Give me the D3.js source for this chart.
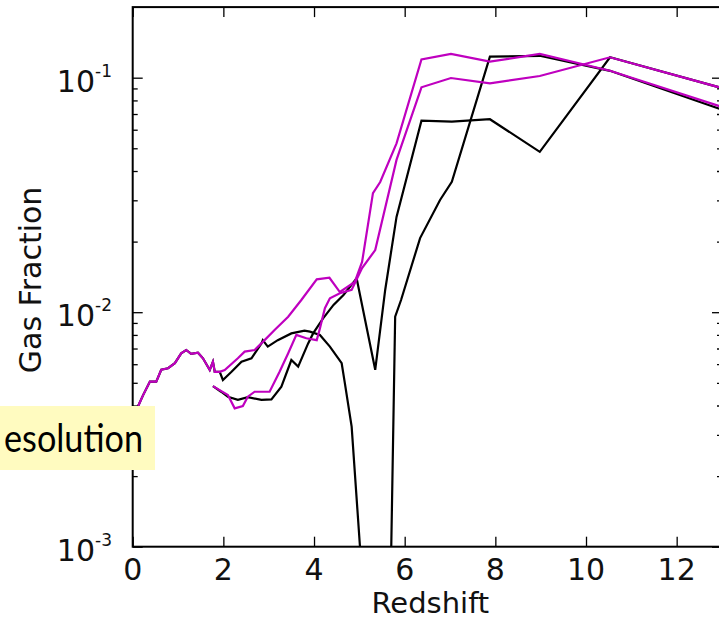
<!DOCTYPE html>
<html>
<head>
<meta charset="utf-8">
<script src="https://cdn.jsdelivr.net/npm/d3@7"></script>
<style>
  body { margin: 0; background: #fff; }
  svg { display: block; }
</style>
</head>
<body>
<div id="chart"></div>
<script>
// redshift / gas fraction
const blackAz = [0, 0.12, 0.23, 0.38, 0.52, 0.63, 0.78, 0.93, 1.07, 1.18, 1.29, 1.44, 1.55, 1.70, 1.77, 1.81, 1.92, 1.99, 2.18, 2.40, 2.62, 2.84, 2.87, 2.98, 3.20, 3.50, 3.79, 3.91, 4.13, 4.35, 4.61, 4.68, 4.83, 5.03, 5.70, 5.79, 5.92, 6.34, 6.78, 7.04, 7.88, 8.98, 10.53, 13.0]
const blackAf = [0.00379, 0.00398, 0.00443, 0.00506, 0.00506, 0.00568, 0.00577, 0.00606, 0.00668, 0.0069, 0.00664, 0.00672, 0.00636, 0.00567, 0.00615, 0.00557, 0.00557, 0.00514, 0.00557, 0.00615, 0.00636, 0.00736, 0.0076, 0.00713, 0.0076, 0.00812, 0.00834, 0.00826, 0.008, 0.00713, 0.00606, 0.00498, 0.00325, 0.0009, 0.0009, 0.00957, 0.01127, 0.0207, 0.0301, 0.036, 0.123, 0.124, 0.107, 0.073]

const magentaAz = [0, 0.12, 0.23, 0.38, 0.52, 0.63, 0.78, 0.93, 1.07, 1.18, 1.29, 1.44, 1.55, 1.70, 1.77, 1.81, 1.92, 2.03, 2.32, 2.47, 2.69, 2.91, 3.13, 3.43, 3.72, 4.06, 4.34, 4.57, 4.90, 5.06, 5.30, 5.46, 5.82, 6.37, 7.02, 7.88, 8.98, 10.53, 13.0]
const magentaAf = [0.00379, 0.00398, 0.00443, 0.00506, 0.00506, 0.00568, 0.00577, 0.00606, 0.00668, 0.0069, 0.00664, 0.00672, 0.00636, 0.00567, 0.00615, 0.00557, 0.00557, 0.00567, 0.00636, 0.00679, 0.0069, 0.0076, 0.0084, 0.00957, 0.01127, 0.0138, 0.01402, 0.01219, 0.01346, 0.01637, 0.0322, 0.0359, 0.0525, 0.1197, 0.1262, 0.117, 0.1262, 0.107, 0.075]

const blackBz = [1.77, 1.95, 2.10, 2.32, 2.54, 2.84, 3.06, 3.28, 3.50, 3.65, 3.87, 3.98, 4.20, 4.43, 4.65, 4.94, 5.35, 5.57, 5.82, 6.37, 7.04, 7.88, 8.98, 10.53, 13.0]
const blackBf = [0.00484, 0.00458, 0.00436, 0.00423, 0.00434, 0.00423, 0.00425, 0.00481, 0.00625, 0.00586, 0.00736, 0.00812, 0.00942, 0.01074, 0.01184, 0.01396, 0.00568, 0.01244, 0.0255, 0.0656, 0.0649, 0.0665, 0.0483, 0.1222, 0.0903]

const magentaBz = [1.77, 2.10, 2.25, 2.43, 2.54, 2.69, 3.02, 3.24, 3.43, 3.61, 3.83, 4.06, 4.13, 4.24, 4.35, 4.57, 4.83, 5.06, 5.35, 5.82, 6.37, 7.02, 7.88, 8.98, 10.53, 13.0]
const magentaBf = [0.00484, 0.00443, 0.00389, 0.00398, 0.00436, 0.00458, 0.00458, 0.00557, 0.00668, 0.008, 0.00774, 0.0076, 0.00853, 0.0104, 0.01146, 0.01205, 0.01245, 0.01542, 0.01841, 0.0446, 0.091, 0.0997, 0.0946, 0.1017, 0.1222, 0.0903]

const xTicks = [0, 2, 4, 6, 8, 10, 12]
const yExponents = [-3, -2, -1]
const labelText = 'esolution'

const W = 719, H = 621
const x = d3.scaleLinear().domain([0, 13]).range([132.7, 722])
const y = d3.scaleLog().domain([1e-3, 0.2]).range([546.7, 7.1])

const svg = d3.select('#chart').append('svg')
  .attr('width', W)
  .attr('height', H)

svg.append('rect').attr('width', W).attr('height', H).attr('fill', '#fff')

svg.append('defs').append('clipPath').attr('id', 'plot')
  .append('rect')
  .attr('x', x(0)).attr('y', y(0.2))
  .attr('width', x(13) - x(0)).attr('height', y(1e-3) - y(0.2))

const line = d3.line().x(d => x(d[0])).y(d => y(d[1]))
const zip = (a, b) => a.map((v, i) => [v, b[i]])

const series = [
  { pts: zip(blackAz, blackAf), color: '#000' },
  { pts: zip(blackBz, blackBf), color: '#000' },
  { pts: zip(magentaAz, magentaAf), color: '#bf00bf' },
  { pts: zip(magentaBz, magentaBf), color: '#bf00bf' }
]

const plot = svg.append('g').attr('clip-path', 'url(#plot)')
plot.selectAll('path')
  .data(series)
  .enter()
  .append('path')
  .attr('d', d => line(d.pts))
  .attr('fill', 'none')
  .attr('stroke', d => d.color)
  .attr('stroke-width', 2.2)
  .attr('stroke-linejoin', 'miter')

// ticks, all pointing inward
const minors = []
yExponents.forEach(e => { for (let k = 2; k <= 9; k++) minors.push(k * Math.pow(10, e)) })
const majors = yExponents.map(e => Math.pow(10, e))

function ticks(axis, size, vals, tx, ty) {
  const g = svg.append('g')
    .attr('transform', 'translate(' + tx + ',' + ty + ')')
    .call(axis.tickValues(vals).tickSize(-size).tickSizeOuter(0).tickFormat(''))
  g.select('.domain').remove()
  g.selectAll('line').attr('stroke', '#000').attr('stroke-width', 1.3)
}
ticks(d3.axisBottom(x), 10, xTicks, 0, y(1e-3))
ticks(d3.axisTop(x), 10, xTicks, 0, y(0.2))
ticks(d3.axisLeft(y), 10, majors, x(0), 0)
ticks(d3.axisLeft(y), 5, minors.filter(v => v < 0.2), x(0), 0)
ticks(d3.axisRight(y), 10, majors, x(13), 0)
ticks(d3.axisRight(y), 5, minors.filter(v => v < 0.2), x(13), 0)

// frame
svg.append('rect')
  .attr('x', x(0)).attr('y', y(0.2))
  .attr('width', x(13) - x(0)).attr('height', y(1e-3) - y(0.2))
  .attr('fill', 'none')
  .attr('stroke', '#000')
  .attr('stroke-width', 2)

const font = 'DejaVu Sans, sans-serif'

svg.append('g').selectAll('text')
  .data(xTicks)
  .enter()
  .append('text')
  .attr('x', d => x(d))
  .attr('y', 580)
  .attr('text-anchor', 'middle')
  .attr('font-family', font)
  .attr('font-size', 30)
  .attr('fill', '#111')
  .text(d => d)

const yl = svg.append('g').selectAll('text')
  .data(yExponents)
  .enter()
  .append('text')
  .attr('x', 112)
  .attr('y', d => y(Math.pow(10, d)) + 14)
  .attr('text-anchor', 'end')
  .attr('font-family', font)
  .attr('font-size', 30)
  .attr('fill', '#111')
yl.append('tspan').text('10')
yl.append('tspan').attr('dy', -15).attr('font-size', 17).text(d => String(d))

svg.append('text')
  .attr('x', (x(0) + x(13)) / 2 + 3)
  .attr('y', 613)
  .attr('text-anchor', 'middle')
  .attr('font-family', font)
  .attr('font-size', 29)
  .attr('fill', '#111')
  .text('Redshift')

svg.append('text')
  .attr('transform', 'translate(41,' + ((y(0.2) + y(1e-3)) / 2 + 3) + ') rotate(-90)')
  .attr('text-anchor', 'middle')
  .attr('font-family', font)
  .attr('font-size', 30)
  .attr('fill', '#111')
  .text('Gas Fraction')

// yellow callout at the left edge
svg.append('rect')
  .attr('x', 0).attr('y', 406)
  .attr('width', 155).attr('height', 64)
  .attr('fill', '#fffbc0')
svg.append('text')
  .attr('x', 143)
  .attr('y', 452)
  .attr('text-anchor', 'end')
  .attr('font-family', 'Lato, sans-serif')
  .attr('font-size', 38)
  .attr('textLength', 139)
  .attr('lengthAdjust', 'spacingAndGlyphs')
  .attr('fill', '#000')
  .text(labelText)
</script>
</body>
</html>
